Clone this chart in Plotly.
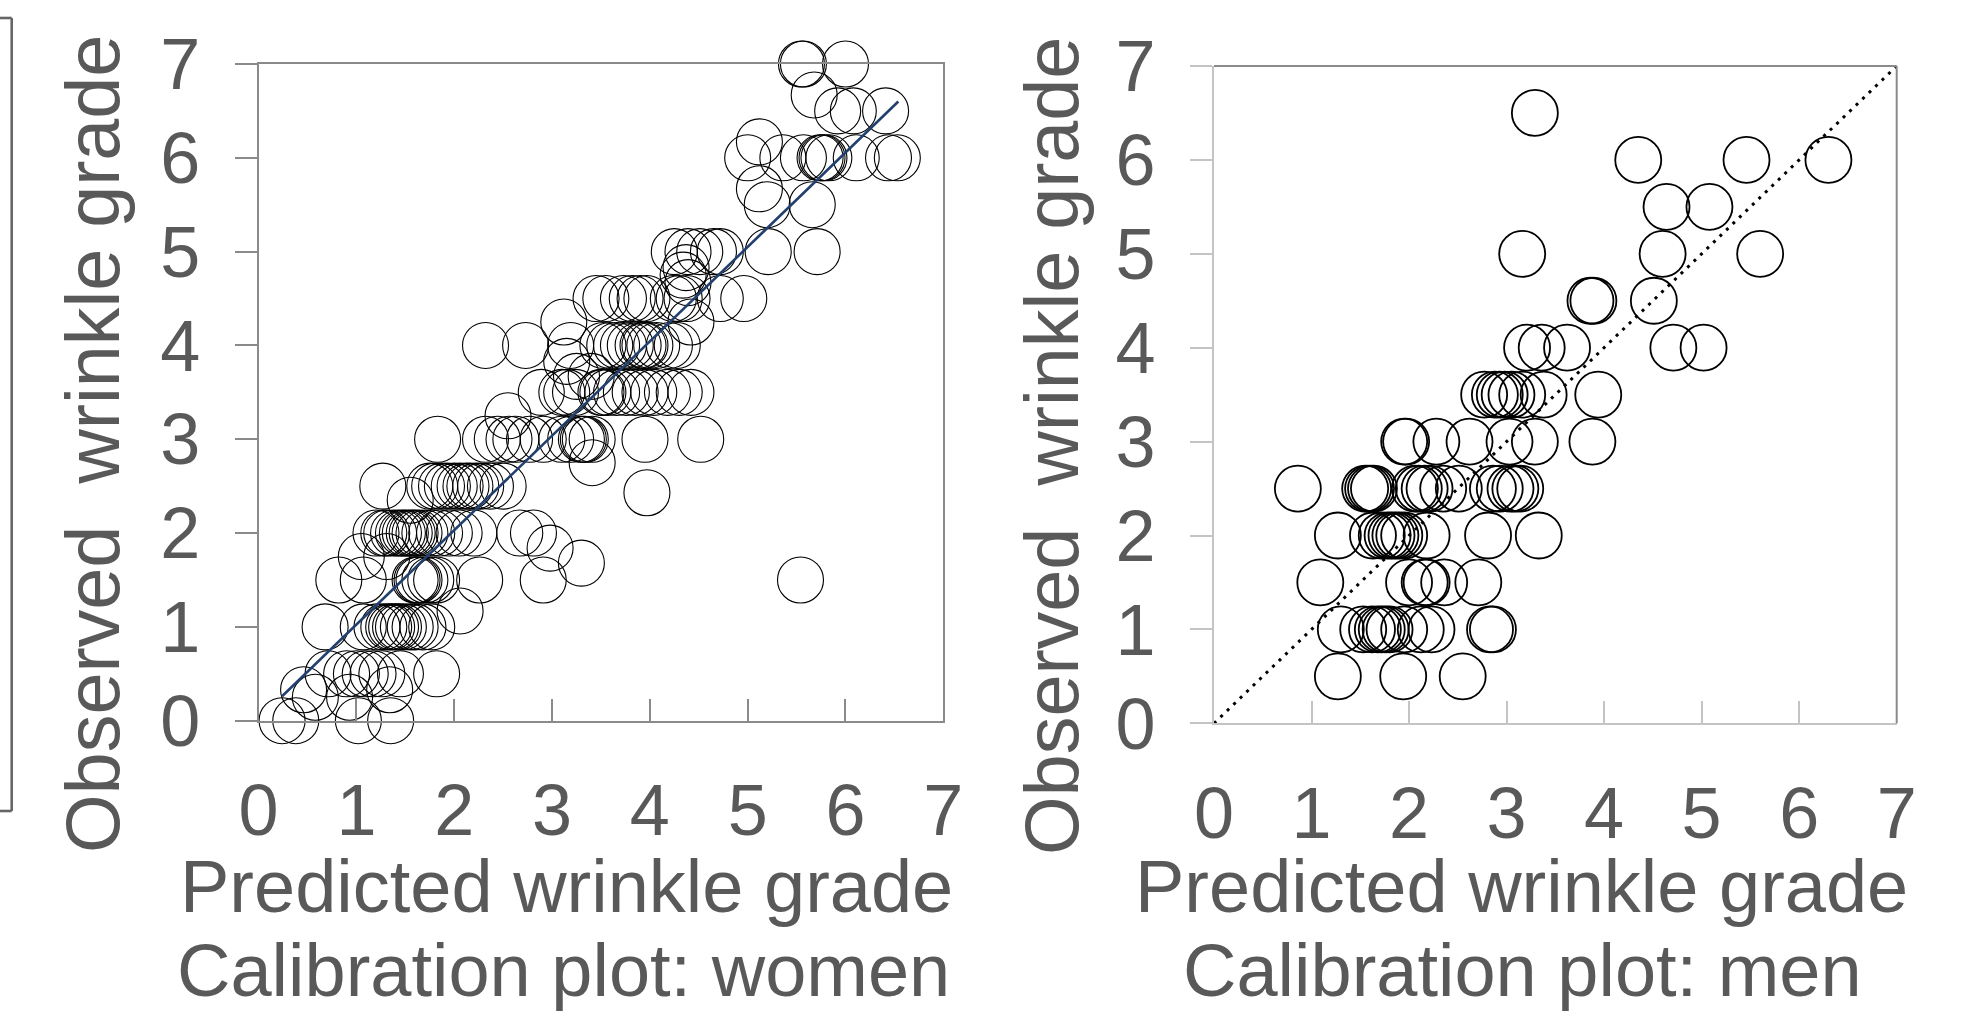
import plotly.graph_objects as go

# ---------------- data: women ----------------
women_rows = {
    7.0: [5.55, 5.57, 6.0],
    6.67: [5.68],
    6.5: [5.92, 6.08, 6.41],
    6.17: [5.12],
    6.0: [5.0, 5.36, 5.57, 5.74, 5.76, 5.78, 5.83, 6.11, 6.44, 6.53],
    5.67: [5.12],
    5.5: [5.2, 5.66],
    5.0: [4.25, 4.39, 4.51, 4.65, 4.72, 5.21, 5.71],
    4.83: [4.37],
    4.75: [4.34],
    4.67: [4.39],
    4.5: [3.45, 3.55, 3.73, 3.82, 3.9, 3.97, 4.24, 4.3, 4.38, 4.72, 4.96],
    4.25: [3.12, 4.42],
    4.0: [2.32, 2.73, 3.19, 3.52, 3.59, 3.66, 3.73, 3.8, 3.88, 3.93, 3.95, 4.0, 4.07, 4.2, 4.28],
    3.83: [3.15],
    3.67: [3.25, 3.4],
    3.5: [2.89, 3.1, 3.15, 3.24, 3.5, 3.52, 3.57, 3.66, 3.76, 3.85, 3.95, 4.04, 4.18, 4.3, 4.42],
    3.25: [2.55],
    3.0: [1.83, 2.32, 2.44, 2.56, 2.63, 2.77, 2.91, 3.1, 3.19, 3.3, 3.32, 3.34, 3.41, 3.95, 4.52],
    2.75: [3.41],
    2.5: [1.27, 1.75, 1.8, 1.87, 1.93, 2.0, 2.06, 2.12, 2.16, 2.22, 2.27, 2.37, 2.5],
    2.43: [3.97],
    2.35: [1.55],
    2.0: [1.2, 1.28, 1.31, 1.38, 1.43, 1.47, 1.5, 1.54, 1.57, 1.6, 1.64, 1.7, 1.77, 1.85,
          1.95, 2.05, 2.2, 2.67, 2.81],
    1.84: [2.98],
    1.75: [1.05, 1.31],
    1.68: [3.3],
    1.5: [0.82, 1.07, 1.6, 1.62, 1.64, 1.7, 1.76, 1.82, 2.26, 2.91, 5.54],
    1.17: [2.06],
    1.0: [0.68, 1.07, 1.21, 1.28, 1.33, 1.36, 1.4, 1.43, 1.48, 1.55, 1.6, 1.68, 1.77],
    0.5: [0.71, 0.9, 1.0, 1.09, 1.17, 1.26, 1.45, 1.82],
    0.33: [0.46, 1.34],
    0.25: [0.58, 0.93],
    0.0: [0.24, 0.38, 1.02, 1.35],
}
women_pred = [x for yv, xs in women_rows.items() for x in xs]
women_obs = [yv for yv, xs in women_rows.items() for x in xs]

fit_x = [0.24, 6.54]
fit_y = [0.26, 6.60]

# ---------------- data: men ----------------
men_rows = {
    0.5: [1.27, 1.94, 2.55],
    1.0: [1.3, 1.53, 1.62, 1.68, 1.72, 1.76, 1.8, 1.95, 2.12, 2.23, 2.83, 2.86],
    1.5: [1.09, 2.0, 2.16, 2.18, 2.36, 2.71],
    2.0: [1.27, 1.63, 1.72, 1.78, 1.82, 1.86, 1.9, 1.95, 2.18, 2.81, 3.33],
    2.5: [0.86, 1.55, 1.58, 1.61, 1.64, 2.06, 2.1, 2.16, 2.21, 2.35, 2.51, 2.86, 2.93,
          3.04, 3.09, 3.14],
    3.0: [1.95, 1.97, 2.28, 2.62, 3.03, 3.29, 3.88],
    3.5: [2.77, 2.88, 2.93, 2.98, 3.05, 3.16, 3.38, 3.94],
    4.0: [3.21, 3.36, 3.62, 4.71, 5.02],
    4.5: [3.86, 3.89, 4.51],
    5.0: [3.16, 4.6, 5.6],
    5.5: [4.64, 5.08],
    6.0: [4.35, 5.46, 6.3],
    6.5: [3.29],
}
men_pred = [x for yv, xs in men_rows.items() for x in xs]
men_obs = [yv for yv, xs in men_rows.items() for x in xs]

ident_x = [0, 7]
ident_y = [0, 7]

tick_vals = [0, 1, 2, 3, 4, 5, 6, 7]
tick_text = ["0", "1", "2", "3", "4", "5", "6", "7"]

# ---------------- figure ----------------
W, H = 1974, 1017
FONT = "Liberation Sans, Arial, sans-serif"
TXT = "#595959"

fig = go.Figure()
fig.add_trace(go.Scatter(
    x=women_pred, y=women_obs, mode="markers", xaxis="x", yaxis="y",
    marker=dict(symbol="circle-open", size=46, color="#000000",
                line=dict(width=1.1, color="#000000")),
    cliponaxis=False, showlegend=False, hoverinfo="skip"))
fig.add_trace(go.Scatter(
    x=fit_x, y=fit_y, mode="lines", xaxis="x", yaxis="y",
    line=dict(color="#22406e", width=2.6), showlegend=False, hoverinfo="skip"))
fig.add_trace(go.Scatter(
    x=men_pred, y=men_obs, mode="markers", xaxis="x2", yaxis="y2",
    marker=dict(symbol="circle-open", size=46, color="#000000",
                line=dict(width=1.8, color="#000000")),
    cliponaxis=False, showlegend=False, hoverinfo="skip"))
fig.add_trace(go.Scatter(
    x=ident_x, y=ident_y, mode="lines", xaxis="x2", yaxis="y2",
    line=dict(color="#000000", width=3, dash="3px,6px"),
    cliponaxis=False, showlegend=False, hoverinfo="skip"))


def px_x(p):
    return p / W


def px_y(p):
    return 1 - p / H


common = dict(range=[0, 7], tickvals=tick_vals, ticktext=tick_text,
              showgrid=False, zeroline=False, showline=True, linewidth=2,
              tickwidth=2, ticklen=22, fixedrange=True, automargin=False,
              tickfont=dict(family=FONT, size=72, color=TXT))

fig.update_layout(
    template="none",
    width=W, height=H, margin=dict(l=0, r=0, t=0, b=0, pad=0, autoexpand=False),
    paper_bgcolor="white", plot_bgcolor="white", showlegend=False,
    xaxis=dict(domain=[px_x(258.6), px_x(943.3)], anchor="y", ticks="inside",
               linecolor="#8a8a8a", tickcolor="#8a8a8a", mirror=True,
               ticklabelstandoff=26, **common),
    yaxis=dict(domain=[px_y(720.7), px_y(64)], anchor="x", ticks="outside",
               linecolor="#8a8a8a", tickcolor="#8a8a8a", mirror=True,
               ticklabelstandoff=20, **common),
    xaxis2=dict(domain=[px_x(1214), px_x(1896.7)], anchor="y2", ticks="inside",
                linecolor="#c4c4c4", tickcolor="#c4c4c4",
                ticklabelstandoff=26, **common),
    yaxis2=dict(domain=[px_y(723.3), px_y(66)], anchor="x2", ticks="outside",
                linecolor="#c4c4c4", tickcolor="#c4c4c4",
                ticklabelstandoff=20, **common),
)

# right-panel top/right border (darker than its axes)
fig.add_shape(type="line", xref="x2 domain", yref="y2 domain", x0=0, x1=1, y0=1, y1=1,
              line=dict(color="#8a8a8a", width=2))
fig.add_shape(type="line", xref="x2 domain", yref="y2 domain", x0=1, x1=1, y0=0, y1=1,
              line=dict(color="#8a8a8a", width=2))

# bracket at the far left
for (x0, y0, x1, y1) in [(0, 18, 11.7, 18), (11.7, 18, 11.7, 811), (0, 811, 11.7, 811)]:
    fig.add_shape(type="line", xref="paper", yref="paper",
                  x0=px_x(x0), x1=px_x(x1), y0=px_y(y0), y1=px_y(y1),
                  line=dict(color="#666666", width=2.6))

title_font = dict(family=FONT, size=74, color=TXT)
ytitle_font = dict(family=FONT, size=75.5, color=TXT)
annots = [
    dict(text="Predicted wrinkle grade", x=px_x(566), y=px_y(886.4), font=title_font),
    dict(text="Calibration plot: women", x=px_x(563), y=px_y(970), font=title_font),
    dict(text="Predicted wrinkle grade", x=px_x(1521), y=px_y(886.4), font=title_font),
    dict(text="Calibration plot: men", x=px_x(1522), y=px_y(970), font=title_font),
    dict(text="Observed\u00a0\u00a0wrinkle grade", x=px_x(93), y=px_y(444),
         textangle=-90, font=ytitle_font),
    dict(text="Observed\u00a0\u00a0wrinkle grade", x=px_x(1052), y=px_y(446),
         textangle=-90, font=ytitle_font),
]
for a in annots:
    fig.add_annotation(xref="paper", yref="paper", showarrow=False,
                       xanchor="center", yanchor="middle", **a)

fig.write_html("out.html",
               config={"displayModeBar": False, "staticPlot": True},
               post_script="document.body.style.margin='0';"
                           "document.body.style.overflow='hidden';")
